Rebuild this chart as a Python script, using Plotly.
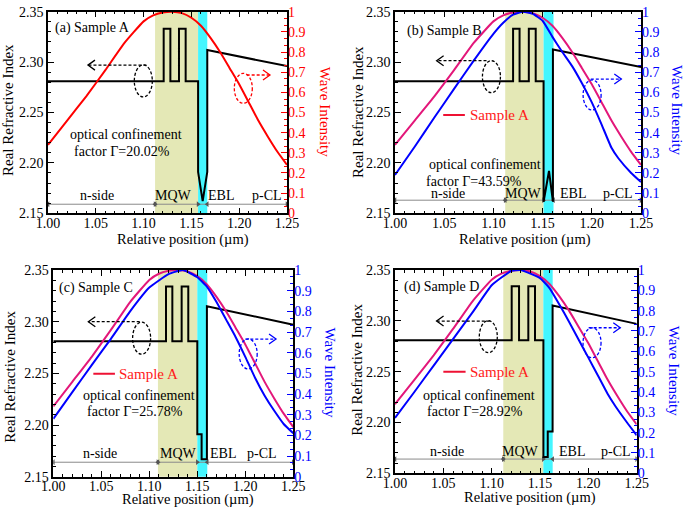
import plotly.graph_objects as go

W, H = 685, 510
FONT = "Liberation Serif, Times New Roman, DejaVu Serif, serif"
RED = "#FF0000"
PINK = "#E3177A"
BLUE = "#0000FF"
KHAKI = "#E4E8B6"
CYAN = "#44F6FF"
DASH = "3px,2px"

# ---------------- data ----------------
X_RANGE = [1.00, 1.25]
N_RANGE = [2.15, 2.35]
I_RANGE = [0, 1]
X_TICKS = [1.00, 1.05, 1.10, 1.15, 1.20, 1.25]
N_TICKS = [2.15, 2.20, 2.25, 2.30, 2.35]
I_TICKS = [0, 0.1, 0.2, 0.3, 0.4, 0.5, 0.6, 0.7, 0.8, 0.9, 1.0]
I_TICK_TEXT = ["0", "0.1", "0.2", "0.3", "0.4", "0.5", "0.6", "0.7", "0.8", "0.9", "1"]

PANEL_LABELS = ["(a) Sample A", "(b) Sample B", "(c) Sample C", "(d) Sample D"]
GAMMA = ["20.02%", "43.59%", "25.78%", "28.92%"]
REGIONS = ["n-side", "MQW", "EBL", "p-CL"]

# wave intensity of Sample A (reference, shown in every panel)
X_WAVE_A = [1.00, 1.02, 1.04, 1.06, 1.08, 1.10, 1.11, 1.12, 1.13, 1.14, 1.15, 1.16,
            1.17, 1.18, 1.19, 1.20, 1.21, 1.22, 1.23, 1.24, 1.25]
WAVE_A = [0.34, 0.46, 0.58, 0.71, 0.845, 0.952, 0.982, 0.996, 1.0, 0.993, 0.97, 0.93,
          0.87, 0.80, 0.72, 0.64, 0.55, 0.46, 0.38, 0.305, 0.24]

X_WAVE_B = [1.00, 1.02, 1.04, 1.06, 1.08, 1.10, 1.11, 1.12, 1.13, 1.14, 1.15, 1.16,
            1.17, 1.18, 1.19, 1.20, 1.21, 1.22, 1.227, 1.24, 1.25]
WAVE_B = [0.19, 0.33, 0.475, 0.617, 0.757, 0.89, 0.945, 0.985, 1.0, 0.99, 0.955, 0.875,
          0.80, 0.73, 0.645, 0.55, 0.44, 0.325, 0.273, 0.20, 0.155]

X_WAVE_C = [1.00, 1.02, 1.04, 1.06, 1.08, 1.10, 1.12, 1.135, 1.15, 1.16, 1.17, 1.18,
            1.19, 1.20, 1.21, 1.22, 1.23, 1.24, 1.25]
WAVE_C = [0.28, 0.41, 0.54, 0.667, 0.80, 0.915, 0.98, 1.0, 0.965, 0.92, 0.845, 0.76,
          0.675, 0.58, 0.48, 0.393, 0.32, 0.255, 0.21]

X_WAVE_D = [1.00, 1.02, 1.04, 1.06, 1.08, 1.10, 1.12, 1.13, 1.15, 1.16, 1.17, 1.18,
            1.19, 1.20, 1.21, 1.22, 1.228, 1.24, 1.25]
WAVE_D = [0.272, 0.40, 0.53, 0.66, 0.79, 0.925, 0.995, 1.0, 0.96, 0.91, 0.83, 0.746,
          0.657, 0.569, 0.48, 0.39, 0.33, 0.25, 0.187]

# real refractive index profiles
POS_A = [1.00, 1.121, 1.121, 1.128, 1.128, 1.137, 1.137, 1.144, 1.144, 1.157, 1.157,
         1.1618, 1.1666, 1.1666, 1.25]
IDX_A = [2.281, 2.281, 2.333, 2.333, 2.281, 2.281, 2.333, 2.333, 2.281, 2.281, 2.191,
         2.162, 2.191, 2.312, 2.296]

POS_B = [1.00, 1.12, 1.12, 1.1266, 1.1266, 1.136, 1.136, 1.143, 1.143, 1.151, 1.151,
         1.1565, 1.1605, 1.1605, 1.25]
IDX_B = [2.281, 2.281, 2.333, 2.333, 2.281, 2.281, 2.333, 2.333, 2.281, 2.281, 2.1615,
         2.192, 2.1615, 2.3125, 2.295]

POS_C = [1.00, 1.1174, 1.1174, 1.124, 1.124, 1.1337, 1.1337, 1.1406, 1.1406, 1.150, 1.150,
         1.1545, 1.1545, 1.160, 1.160, 1.25]
IDX_C = [2.281, 2.281, 2.334, 2.334, 2.281, 2.281, 2.334, 2.334, 2.281, 2.281, 2.191,
         2.191, 2.167, 2.167, 2.315, 2.297]

POS_D = [1.00, 1.1207, 1.1207, 1.1283, 1.1283, 1.1379, 1.1379, 1.1448, 1.1448, 1.1535,
         1.1535, 1.158, 1.158, 1.163, 1.163, 1.25]
IDX_D = [2.281, 2.281, 2.334, 2.334, 2.281, 2.281, 2.334, 2.334, 2.281, 2.281, 2.166,
         2.166, 2.191, 2.191, 2.315, 2.297]

MQW_START = [1.112, 1.112, 1.109, 1.112]
EBL_START = [1.157, 1.151, 1.150, 1.1534]
EBL_END = [1.1666, 1.1611, 1.1604, 1.1631]

# ---------------- layout config (positions) ----------------
def px2x(p):
    return p / W

def py2y(p):
    return 1 - p / H

panels = [
    dict(xd=[48, 287], yd=[213.3, 11.7], pos=POS_A, idx=IDX_A, wx=None, w=None,
         acol=RED, rcol=RED,
         label=(1.0056, 2.3338), opt1=(1.0811, 2.2277), opt2=(1.0771, 2.211),
         bar_y=2.159, reg_y=2.168, reg_x=[1.051, 1.131, 1.1806, 1.2288],
         ell_k=(1.0997, 2.2813), arr_k=(1.103, 1.0418, 2.297),
         ell_c=(1.2043, 0.62), arr_c=(1.2078, 1.2322, 0.686), legend=None,
         ytitle=(8, 110), rtitle=(325, 111.7), xtitle=(182.5, 239.5)),
    dict(xd=[395, 641], yd=[213.3, 11.7], pos=POS_B, idx=IDX_B, wx=X_WAVE_B, w=WAVE_B,
         acol=PINK, rcol=BLUE,
         label=(1.0101, 2.331), opt1=(1.0912, 2.198), opt2=(1.0806, 2.1813),
         bar_y=2.163, reg_y=2.170, reg_x=[1.054, 1.131, 1.1807, 1.2263],
         ell_k=(1.098, 2.2855), arr_k=(1.093, 1.0423, 2.3014),
         ell_c=(1.2003, 0.587), arr_c=(1.199, 1.23, 0.666),
         legend=(1.049, 1.071, 1.0743, 2.2475),
         ytitle=(358, 112), rtitle=(676.7, 110.8), xtitle=(525, 239.5)),
    dict(xd=[53.3, 293.3], yd=[476.7, 270], pos=POS_C, idx=IDX_C, wx=X_WAVE_C, w=WAVE_C,
         acol=PINK, rcol=BLUE,
         label=(1.0035, 2.3323), opt1=(1.0895, 2.229), opt2=(1.0846, 2.2129),
         bar_y=2.164, reg_y=2.172, reg_x=[1.0486, 1.130, 1.1765, 1.217],
         ell_k=(1.092, 2.284), arr_k=(1.090, 1.0365, 2.30),
         ell_c=(1.203, 0.594), arr_c=(1.200, 1.232, 0.666),
         legend=(1.0417, 1.0642, 1.0667, 2.2496),
         ytitle=(10, 376.7), rtitle=(330, 372.5), xtitle=(187.5, 499)),
    dict(xd=[395, 636.7], yd=[473.3, 270], pos=POS_D, idx=IDX_D, wx=X_WAVE_D, w=WAVE_D,
         acol=PINK, rcol=BLUE,
         label=(1.0069, 2.3336), opt1=(1.0871, 2.227), opt2=(1.0828, 2.2106),
         bar_y=2.164, reg_y=2.1715, reg_x=[1.0535, 1.1293, 1.183, 1.229],
         ell_k=(1.0965, 2.2844), arr_k=(1.098, 1.043, 2.2998),
         ell_c=(1.2038, 0.642), arr_c=(1.2003, 1.233, 0.716),
         legend=(1.050, 1.073, 1.0758, 2.25),
         ytitle=(356.7, 370), rtitle=(674, 370.7), xtitle=(530, 497)),
]

fig = go.Figure()
shapes = []
annotations = []
layout_axes = {}

for i, p in enumerate(panels):
    xn = "" if i == 0 else str(i + 1)
    yl = "" if i == 0 else str(2 * i + 1)
    yr = str(2 * i + 2)
    xref, ylref, yrref = "x" + xn, "y" + yl, "y" + yr

    # background regions
    shapes.append(dict(type="rect", xref=xref, yref=ylref + " domain",
                       x0=MQW_START[i], x1=EBL_START[i], y0=0, y1=1,
                       fillcolor=KHAKI, line_width=0, layer="below"))
    shapes.append(dict(type="rect", xref=xref, yref=ylref + " domain",
                       x0=EBL_START[i], x1=EBL_END[i], y0=0, y1=1,
                       fillcolor=CYAN, line_width=0, layer="below"))

    # region bar
    bx = [X_RANGE[0], MQW_START[i], MQW_START[i], EBL_START[i], EBL_END[i], X_RANGE[1]]
    fig.add_trace(go.Scatter(x=[X_RANGE[0], X_RANGE[1]], y=[p["bar_y"]] * 2,
                             mode="lines", line=dict(color="#8a8a8a", width=1),
                             xaxis=xref, yaxis=ylref, showlegend=False, hoverinfo="skip"))
    fig.add_trace(go.Scatter(x=bx, y=[p["bar_y"]] * len(bx), mode="markers",
                             marker=dict(symbol=["triangle-left", "triangle-right"] * 3,
                                         size=5, color="#555555"),
                             xaxis=xref, yaxis=ylref, showlegend=False, hoverinfo="skip"))

    # refractive index
    fig.add_trace(go.Scatter(x=p["pos"], y=p["idx"], mode="lines",
                             line=dict(color="black", width=2),
                             xaxis=xref, yaxis=ylref, showlegend=False))
    # wave intensity
    fig.add_trace(go.Scatter(x=X_WAVE_A, y=WAVE_A, mode="lines",
                             line=dict(color=p["acol"], width=2, shape="spline", smoothing=0.4),
                             xaxis=xref, yaxis=yrref, showlegend=False))
    if p["w"] is not None:
        fig.add_trace(go.Scatter(x=p["wx"], y=p["w"], mode="lines",
                                 line=dict(color=BLUE, width=2, shape="spline", smoothing=0.4),
                                 xaxis=xref, yaxis=yrref, showlegend=False))

    # dashed ellipses and arrows
    ex, ey = p["ell_k"]
    shapes.append(dict(type="circle", xref=xref, yref=ylref, xsizemode="pixel", ysizemode="pixel",
                       xanchor=ex, yanchor=ey, x0=-9, x1=9, y0=-16, y1=16,
                       line=dict(color="black", width=1.3, dash=DASH)))
    a0, a1, ay = p["arr_k"]
    shapes.append(dict(type="line", xref=xref, yref=ylref, x0=a0, x1=a1, y0=ay, y1=ay,
                       line=dict(color="black", width=1.3, dash=DASH)))
    shapes.append(dict(type="path", xref=xref, yref=ylref, xsizemode="pixel", ysizemode="pixel",
                       xanchor=a1, yanchor=ay, path="M 7,5 L 0,0 L 7,-5",
                       line=dict(color="black", width=1.3)))
    cx, cy = p["ell_c"]
    shapes.append(dict(type="circle", xref=xref, yref=yrref, xsizemode="pixel", ysizemode="pixel",
                       xanchor=cx, yanchor=cy, x0=-9, x1=9, y0=-15, y1=15,
                       line=dict(color=p["rcol"], width=1.3, dash=DASH)))
    c0, c1, cy2 = p["arr_c"]
    shapes.append(dict(type="line", xref=xref, yref=yrref, x0=c0, x1=c1, y0=cy2, y1=cy2,
                       line=dict(color=p["rcol"], width=1.3, dash=DASH)))
    shapes.append(dict(type="path", xref=xref, yref=yrref, xsizemode="pixel", ysizemode="pixel",
                       xanchor=c1, yanchor=cy2, path="M -7,5 L 0,0 L -7,-5",
                       line=dict(color=p["rcol"], width=1.3)))

    # legend for Sample A
    if p["legend"] is not None:
        l0, l1, lt, ly = p["legend"]
        shapes.append(dict(type="line", xref=xref, yref=ylref, x0=l0, x1=l1, y0=ly, y1=ly,
                           line=dict(color="#EE1133", width=2)))
        annotations.append(dict(x=lt, y=ly, xref=xref, yref=ylref, text="Sample A",
                                showarrow=False, xanchor="left", yanchor="middle",
                                font=dict(family=FONT, size=15, color="#FF1A1A")))

    # texts
    tf = dict(family=FONT, size=14, color="black")
    annotations.append(dict(x=p["label"][0], y=p["label"][1], xref=xref, yref=ylref,
                            text=PANEL_LABELS[i], showarrow=False, xanchor="left",
                            yanchor="middle", font=tf))
    annotations.append(dict(x=p["opt1"][0], y=p["opt1"][1], xref=xref, yref=ylref,
                            text="optical confinement", showarrow=False, xanchor="center",
                            yanchor="middle", font=tf))
    annotations.append(dict(x=p["opt2"][0], y=p["opt2"][1], xref=xref, yref=ylref,
                            text="factor \u0393=" + GAMMA[i], showarrow=False, xanchor="center",
                            yanchor="middle", font=tf))
    for name, rx in zip(REGIONS, p["reg_x"]):
        annotations.append(dict(x=rx, y=p["reg_y"], xref=xref, yref=ylref, text=name,
                                showarrow=False, xanchor="center", yanchor="middle", font=tf))

    # axis titles
    annotations.append(dict(x=px2x(p["ytitle"][0]), y=py2y(p["ytitle"][1]), xref="paper",
                            yref="paper", text="Real Refractive Index", textangle=-90,
                            showarrow=False, xanchor="center", yanchor="middle",
                            font=dict(family=FONT, size=15, color="black")))
    annotations.append(dict(x=px2x(p["rtitle"][0]), y=py2y(p["rtitle"][1]), xref="paper",
                            yref="paper", text="Wave Intensity", textangle=90,
                            showarrow=False, xanchor="center", yanchor="middle",
                            font=dict(family=FONT, size=15, color=p["rcol"])))
    annotations.append(dict(x=px2x(p["xtitle"][0]), y=py2y(p["xtitle"][1]), xref="paper",
                            yref="paper", text="Relative position (\u00b5m)",
                            showarrow=False, xanchor="center", yanchor="middle",
                            font=dict(family=FONT, size=14.5, color="black")))

    # axes
    xdom = [px2x(p["xd"][0]), px2x(p["xd"][1])]
    ydom = [py2y(p["yd"][0]), py2y(p["yd"][1])]
    layout_axes["xaxis" + xn] = dict(
        domain=xdom, range=X_RANGE, anchor=ylref, tickmode="array", tickvals=X_TICKS,
        tickformat=".2f", ticks="inside", ticklen=6, tickwidth=1, tickcolor="black",
        mirror="ticks", showline=True, linecolor="black", linewidth=1.5,
        showgrid=False, zeroline=False, automargin=False, ticklabelstandoff=-4,
        minor=dict(tickmode="linear", tick0=1.0, dtick=0.01, ticks="inside", ticklen=3,
                   tickcolor="black", showgrid=False),
        tickfont=dict(family=FONT, size=14, color="black"))
    layout_axes["yaxis" + yl] = dict(
        domain=ydom, range=N_RANGE, anchor=xref, tickmode="array", tickvals=N_TICKS,
        tickformat=".2f", ticks="inside", ticklen=6, tickwidth=1, tickcolor="black",
        mirror=True, showline=True, linecolor="black", linewidth=1.5,
        showgrid=False, zeroline=False, automargin=False,
        minor=dict(tickmode="linear", tick0=2.15, dtick=0.01, ticks="inside", ticklen=3,
                   tickcolor="black", showgrid=False),
        tickfont=dict(family=FONT, size=14, color="black"))
    layout_axes["yaxis" + yr] = dict(
        overlaying=ylref, side="right", anchor=xref, range=I_RANGE, tickmode="array",
        tickvals=I_TICKS, ticktext=I_TICK_TEXT, ticks="inside", ticklen=6, tickwidth=1,
        tickcolor=p["rcol"], showline=False, showgrid=False, zeroline=False, automargin=False,
        minor=dict(tickmode="linear", tick0=0, dtick=1 / 30, ticks="inside", ticklen=3,
                   tickcolor=p["rcol"], showgrid=False),
        tickfont=dict(family=FONT, size=14, color=p["rcol"]))

fig.update_layout(width=W, height=H, margin=dict(l=0, r=0, t=0, b=0, autoexpand=False),
                  paper_bgcolor="white", plot_bgcolor="white", showlegend=False,
                  shapes=shapes, annotations=annotations, **layout_axes)
fig.write_html("out.html", config={"displayModeBar": False},
               post_script="document.body.style.margin='0';document.body.style.overflow='hidden';")
